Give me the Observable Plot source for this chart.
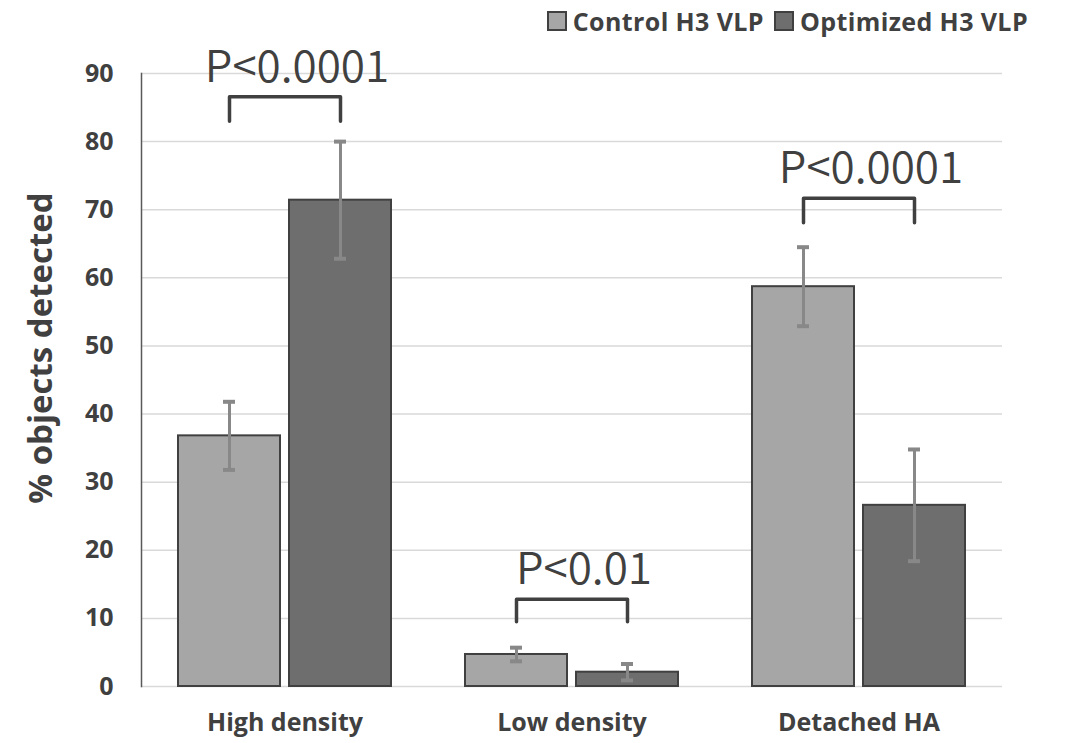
<!DOCTYPE html>
<html><head><meta charset="utf-8">
<script src="https://cdn.jsdelivr.net/npm/d3@7"></script>
<script src="https://cdn.jsdelivr.net/npm/@observablehq/plot@0.6"></script>
<style>
body{margin:0;background:#fff;font-family:"Open Sans",sans-serif;}
#legend{position:relative;z-index:1;height:30px;padding-top:6px;margin-bottom:-20px;display:flex;justify-content:flex-end;align-items:center;padding-right:43px;gap:10px;font-weight:700;font-size:25px;letter-spacing:0.4px;color:#404040;}
.item{display:flex;align-items:center;gap:6px;}
.sw{width:20px;height:20px;border:2px solid #404040;box-sizing:border-box;}
#chart svg{background:transparent !important;}
</style></head><body>
<div id="legend"></div><div id="chart"></div>
<script>
const groups = ["High density", "Low density", "Detached HA"];
const series = ["Control H3 VLP", "Optimized H3 VLP"];
const colors = ["#a6a6a6", "#6e6e6e"];
const control = [36.8, 4.7, 58.7];
const controlErr = [5.0, 1.0, 5.8];
const optimized = [71.4, 2.1, 26.6];
const optimizedErr = [8.6, 1.2, 8.2];
const pLabels = ["P<0.0001", "P<0.01", "P<0.0001"];
const bracketTop = [86.6, 12.8, 71.7];
const bracketLeg = [83.0, 9.5, 68.1];
const pTextY = [90.8, 17.1, 76.0];
const yTicks = [0, 10, 20, 30, 40, 50, 60, 70, 80, 90];
const yLabel = "% objects detected";

const legend = document.getElementById("legend");
series.forEach((s, i) => {
  const it = document.createElement("div"); it.className = "item";
  const sw = document.createElement("div"); sw.className = "sw"; sw.style.background = colors[i];
  const t = document.createElement("span"); t.textContent = s;
  it.appendChild(sw); it.appendChild(t); legend.appendChild(it);
});

const rows = [];
groups.forEach((g, i) => {
  rows.push({group: g, series: series[0], value: control[i], err: controlErr[i]});
  rows.push({group: g, series: series[1], value: optimized[i], err: optimizedErr[i]});
});
const brackets = [];
groups.forEach((g, i) => {
  brackets.push(
    {group: g, series: series[0], y: bracketLeg[i]},
    {group: g, series: series[0], y: bracketTop[i]},
    {group: g, series: series[1], y: bracketTop[i]},
    {group: g, series: series[1], y: bracketLeg[i]}
  );
});
const pRows = groups.map((g, i) => ({group: g, text: pLabels[i], y: pTextY[i]}));

const chart = Plot.plot({
  width: 1071, height: 727,
  marginTop: 57, marginBottom: 57, marginLeft: 140, marginRight: 69,
  style: {fontFamily: "'Open Sans', sans-serif", background: "transparent", color: "#404040"},
  fx: {domain: groups, padding: 0, label: null, axis: null},
  x: {domain: series, paddingInner: 0.08, paddingOuter: 0.3225, axis: null},
  y: {domain: [0, 90], axis: null},
  color: {domain: series, range: colors},
  marks: [
    Plot.gridY(yTicks, {stroke: "#d9d9d9", strokeOpacity: 1, strokeWidth: 1.5}),
    Plot.barY(rows, {fx: "group", x: "series", y: "value", fill: "series", stroke: "#404040", strokeWidth: 2}),
    Plot.ruleX(rows, {fx: "group", x: "series", y1: d => d.value - d.err, y2: d => d.value + d.err, stroke: "#888888", strokeWidth: 3}),
    Plot.tickY(rows, {fx: "group", x: "series", y: d => d.value + d.err, stroke: "#888888", strokeWidth: 4, insetLeft: 45, insetRight: 45}),
    Plot.tickY(rows, {fx: "group", x: "series", y: d => d.value - d.err, stroke: "#888888", strokeWidth: 4, insetLeft: 45, insetRight: 45}),
    Plot.line(brackets, {fx: "group", x: "series", y: "y", z: "group", stroke: "#404040", strokeWidth: 3.5}),
    Plot.text(pRows, {fx: "group", y: "y", text: "text", fontSize: 44, fontFamily: "'Noto Sans CJK JP', sans-serif", fontWeight: 350, fill: "#404040", dx: 12}),
    Plot.axisY(yTicks, {tickSize: 0, tickPadding: 28, fontSize: 25, fontWeight: "bold", fill: "#404040", label: null}),
    Plot.axisFx({anchor: "bottom", tickSize: 0, tickPadding: 27, fontSize: 25, fontWeight: "bold", fill: "#404040", label: null}),
    Plot.frame({anchor: "left", facet: "super", stroke: "#595959", strokeWidth: 1.5}),
    Plot.text([yLabel], {facet: "super", frameAnchor: "left", textAnchor: "middle", rotate: -90, dx: -100, dy: -32, fontSize: 33, fontWeight: "bold", fill: "#404040", text: d => d})
  ]
});
document.getElementById("chart").appendChild(chart);
</script></body></html>
